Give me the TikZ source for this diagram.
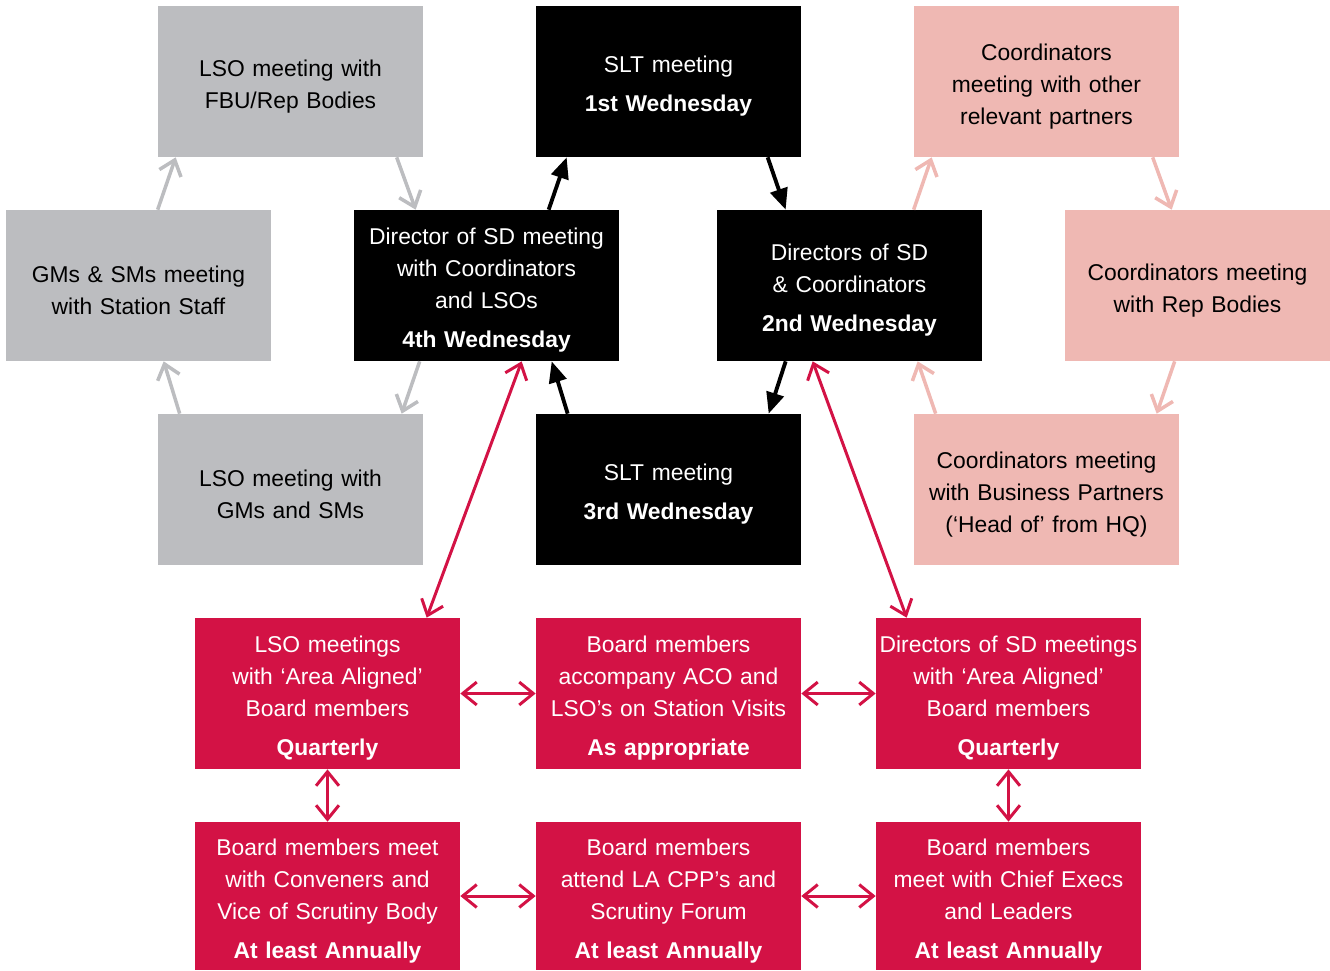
\documentclass[tikz,border=0pt]{standalone}
\usepackage{fontspec}
\setmainfont{Liberation Sans}
\usepackage{tikz}
\usetikzlibrary{arrows.meta,calc}

\definecolor{boxgray}{HTML}{BCBDC0}
\definecolor{boxpink}{HTML}{EFB8B3}
\definecolor{boxred}{HTML}{D31245}

\tikzset{
  meetbox/.style={minimum width=5.3cm, minimum height=3.02cm, inner sep=0pt,
    text width=5.3cm, align=center, font=\fontsize{13}{18.2}\selectfont,
    execute at begin node=\rule{0pt}{15pt}},
  graybox/.style={meetbox, fill=boxgray, text=black},
  blackbox/.style={meetbox, fill=black, text=white},
  pinkbox/.style={meetbox, fill=boxpink, text=black},
  redbox/.style={meetbox, fill=boxred, text=white},
  barb/.tip={Straight Barb[length=8pt,width=13pt]},
  grayarrow/.style={draw=boxgray, line width=2pt, -barb},
  pinkarrow/.style={draw=boxpink, line width=2pt, -barb},
  blackarrow/.style={draw=black, line width=2.2pt, -{Triangle[length=12pt,width=10pt]}},
  redarrow/.style={draw=boxred, line width=1.7pt, barb-barb},
}

\begin{document}
\begin{tikzpicture}[x=0.02cm, y=-0.02cm]
\useasboundingbox (0,0) rectangle (1330,971);
% upper ring
\node[graybox] (fbu) at (290.5,81.5) {LSO meeting with\\FBU/Rep Bodies};
\node[blackbox] (slt1) at (668.5,81.5) {SLT meeting\\[4pt]\textbf{1st Wednesday}};
\node[pinkbox] (coordother) at (1046.5,81.5) {Coordinators\\meeting with other\\relevant partners};
\node[graybox] (gms) at (138.5,285.5) {GMs \& SMs meeting\\with Station Staff};
\node[blackbox] (dirsd) at (486.5,285.5) {Director of SD meeting\\with Coordinators\\and LSOs\\[4pt]\textbf{4th Wednesday}};
\node[blackbox] (dirsco) at (849.5,285.5) {Directors of SD\\\& Coordinators\\[4pt]\textbf{2nd Wednesday}};
\node[pinkbox] (coordrep) at (1197.5,285.5) {Coordinators meeting\\with Rep Bodies};
\node[graybox] (lsogms) at (290.5,489.5) {LSO meeting with\\GMs and SMs};
\node[blackbox] (slt3) at (668.5,489.5) {SLT meeting\\[4pt]\textbf{3rd Wednesday}};
\node[pinkbox] (coordbp) at (1046.5,489.5) {Coordinators meeting\\with Business Partners\\(‘Head of’ from HQ)};
% board rows
\node[redbox] (lsoq) at (327.5,693.5) {LSO meetings\\with ‘Area Aligned’\\Board members\\[4pt]\textbf{Quarterly}};
\node[redbox] (boardacc) at (668.5,693.5) {Board members\\accompany ACO and\\LSO’s on Station Visits\\[4pt]\textbf{As appropriate}};
\node[redbox] (dirq) at (1008.5,693.5) {Directors of SD meetings\\with ‘Area Aligned’\\Board members\\[4pt]\textbf{Quarterly}};
\node[redbox, minimum height=2.96cm] (convener) at (327.5,896) {Board members meet\\with Conveners and\\Vice of Scrutiny Body\\[4pt]\textbf{At least Annually}};
\node[redbox, minimum height=2.96cm] (cpp) at (668.5,896) {Board members\\attend LA CPP’s and\\Scrutiny Forum\\[4pt]\textbf{At least Annually}};
\node[redbox, minimum height=2.96cm] (chief) at (1008.5,896) {Board members\\meet with Chief Execs\\and Leaders\\[4pt]\textbf{At least Annually}};

\draw[grayarrow] ($(gms.north west)+(152,0)$) -- ($(fbu.south west)+(18,0)$);%左上
\draw[grayarrow] ($(fbu.south west)+(239,0)$) -- ($(dirsd.north west)+(62,0)$);
\draw[grayarrow] ($(dirsd.south west)+(66,0)$) -- ($(lsogms.north west)+(244,0)$);
\draw[grayarrow] ($(lsogms.north west)+(22,0)$) -- ($(gms.south west)+(158,0)$);
\draw[blackarrow] ($(dirsd.north west)+(195,0)$) -- ($(slt1.south west)+(31,0)$);%中央
\draw[blackarrow] ($(slt1.south west)+(232,0)$) -- ($(dirsco.north west)+(69,0)$);
\draw[blackarrow] ($(dirsco.south west)+(69,0)$) -- ($(slt3.north west)+(233,0)$);
\draw[blackarrow] ($(slt3.north west)+(32,0)$) -- ($(dirsd.south west)+(198,0)$);
\draw[pinkarrow] ($(dirsco.north west)+(197,0)$) -- ($(coordother.south west)+(18,0)$);%右
\draw[pinkarrow] ($(coordother.south west)+(239,0)$) -- ($(coordrep.north west)+(107,0)$);
\draw[pinkarrow] ($(coordrep.south west)+(110,0)$) -- ($(coordbp.north west)+(243,0)$);
\draw[pinkarrow] ($(coordbp.north west)+(22,0)$) -- ($(dirsco.south west)+(201,0)$);
\draw[redarrow] ($(dirsd.south west)+(168,0)$) -- ($(lsoq.north west)+(232,0)$);%下
\draw[redarrow] ($(dirsco.south west)+(96,0)$) -- ($(dirq.north west)+(31,0)$);
\draw[redarrow] (lsoq) -- (boardacc);
\draw[redarrow] (boardacc) -- (dirq);
\draw[redarrow] (convener) -- (cpp);
\draw[redarrow] (cpp) -- (chief);
\draw[redarrow] (lsoq) -- (convener);
\draw[redarrow] (dirq) -- (chief);
\end{tikzpicture}
\end{document}
